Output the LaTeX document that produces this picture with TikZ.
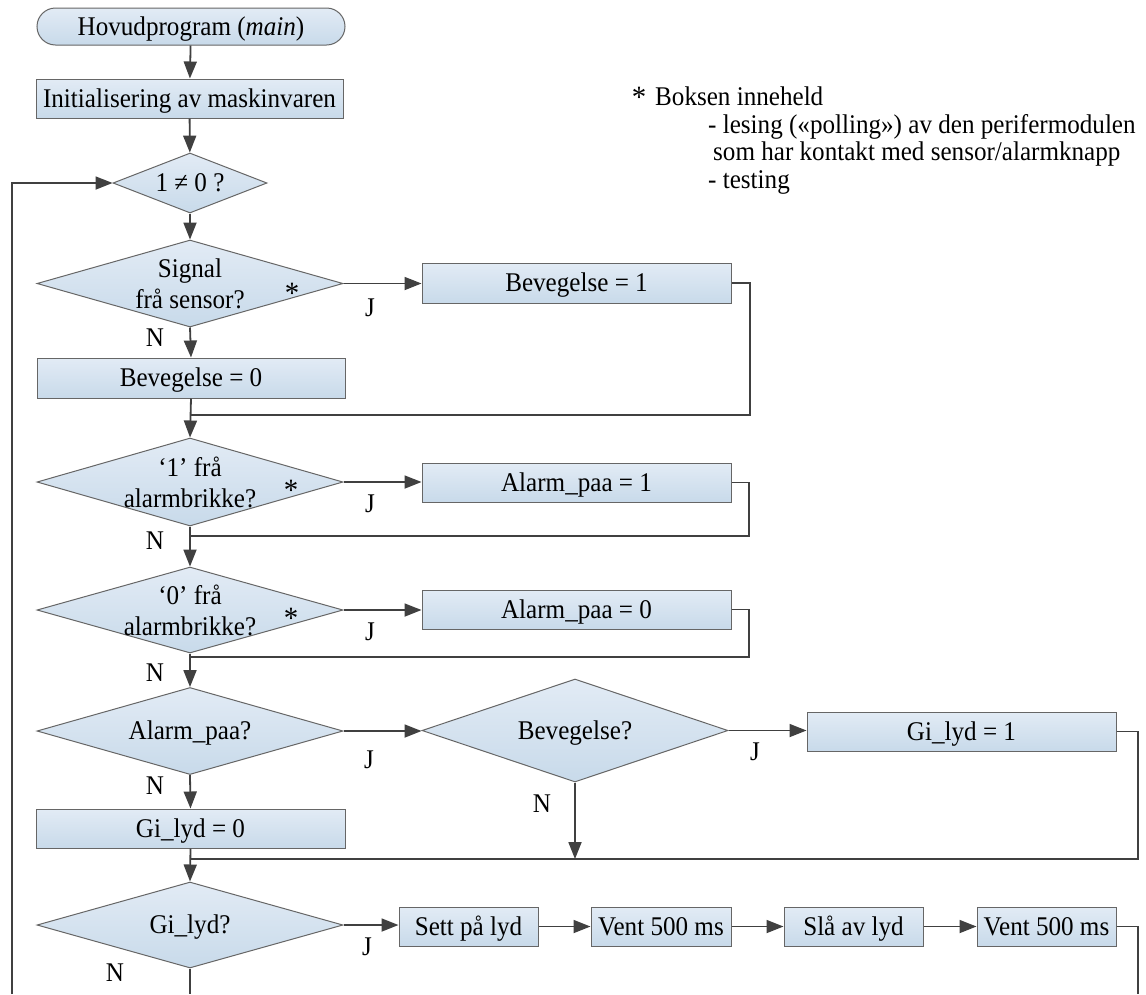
\documentclass[tikz,border=0pt]{standalone}
\usepackage{fontspec}
\setmainfont{Liberation Serif}[FakeStretch=0.93]
\usetikzlibrary{shapes.geometric,arrows.meta}

\definecolor{fillTop}{HTML}{E2EBF5}
\definecolor{fillBot}{HTML}{C8DAEA}
\definecolor{edgecol}{HTML}{666666}
\definecolor{linecol}{HTML}{404040}

\tikzset{
  txt/.style={font=\fontsize{27}{31}\selectfont, inner sep=0pt, text=black},
  capmid/.style={text height=17.9pt, text depth=0pt},
  shaded/.style={draw=edgecol, line width=1pt, top color=fillTop, bottom color=fillBot},
  proc/.style={shaded, rectangle, inner sep=0pt, txt, capmid},
  term/.style={proc, rounded corners=18.5pt},
  dec/.style={shaded, diamond, inner sep=0pt},
  dectext/.style={txt, align=center},
  conn/.style={draw=linecol, line width=1.8pt},
  arr/.style={conn, -{Triangle[length=17pt,width=13pt]}},
  lbl/.style={txt, capmid},
  star/.style={font=\fontsize{31}{31}\selectfont, inner sep=0pt, anchor=base},
}

\begin{document}
\begin{tikzpicture}[x=1pt, y=-1pt]
  \fill[white] (0,0) rectangle (1146,994);
  \useasboundingbox (0,0) rectangle (1146,994);

  % main column
  \node[term, minimum width=308pt, minimum height=37pt] (start) at (191,26.5) {Hovudprogram (\textit{main})};
  \node[proc, minimum width=307pt, minimum height=39pt] (init) at (189.5,98.5) {Initialisering av maskinvaren};

  \node[dec, minimum width=154pt, minimum height=60pt] (loop) at (190,183) {};
  \node[lbl] (loop-t) at (loop) {1 ≠ 0 ?};

  \node[dec, minimum width=306pt, minimum height=87pt] (sig) at (190,283.5) {};
  \node[dectext] (sig-t) at (sig) {Signal\\frå sensor?};

  \node[proc, minimum width=309pt, minimum height=40pt] (b1) at (576.5,283) {Bevegelse = 1};
  \node[proc, minimum width=308pt, minimum height=40pt] (b0) at (191,378) {Bevegelse = 0};

  \node[dec, minimum width=306pt, minimum height=88pt] (a1q) at (190,482) {};
  \node[dectext] (a1q-t) at (a1q) {‘1’ frå\\alarmbrikke?};
  \node[proc, minimum width=309pt, minimum height=39pt] (ap1) at (576.5,482.5) {Alarm\_paa = 1};

  \node[dec, minimum width=306pt, minimum height=86pt] (a0q) at (190,610) {};
  \node[dectext] (a0q-t) at (a0q) {‘0’ frå\\alarmbrikke?};
  \node[proc, minimum width=309pt, minimum height=39pt] (ap0) at (576.5,609.5) {Alarm\_paa = 0};

  \node[dec, minimum width=306pt, minimum height=87pt] (apq) at (190,731) {};
  \node[lbl] (apq-t) at (apq) {Alarm\_paa?};

  \node[dec, minimum width=306pt, minimum height=103pt] (bq) at (575,730.5) {};
  \node[lbl] (bq-t) at (bq) {Bevegelse?};

  \node[proc, minimum width=309pt, minimum height=39pt] (g1) at (961.5,731.5) {Gi\_lyd = 1};
  \node[proc, minimum width=309pt, minimum height=39pt] (g0) at (190.5,828.5) {Gi\_lyd = 0};

  \node[dec, minimum width=306pt, minimum height=86pt] (gq) at (190,925) {};
  \node[lbl] (gq-t) at (gq) {Gi\_lyd?};

  \node[proc, minimum width=139pt, minimum height=39pt] (s1) at (468.5,926.5) {Sett på lyd};
  \node[proc, minimum width=140pt, minimum height=39pt] (v1) at (661,926.5) {Vent 500 ms};
  \node[proc, minimum width=139pt, minimum height=39pt] (s2) at (853.5,926.5) {Slå av lyd};
  \node[proc, minimum width=139pt, minimum height=39pt] (v2) at (1046.5,926.5) {Vent 500 ms};

  % junction and turning points
  \coordinate (m1) at (191,415);
  \coordinate (r1) at (750,415);
  \coordinate (m2) at (190,536);
  \coordinate (r2) at (749,536);
  \coordinate (m3) at (190,657);
  \coordinate (r3) at (749,657);
  \coordinate (m4) at (190,859);
  \coordinate (r4) at (1138,859);
  \coordinate (r5) at (1138,926.5);
  \coordinate (e1) at (1138,994);
  \coordinate (e2) at (190,994);
  \coordinate (lb) at (12,994);
  \coordinate (lt) at (12,183);

  % connectors
  \draw[arr] (start) -- (init);
  \draw[arr] (init) -- (loop);
  \draw[arr] (loop) -- (sig);
  \draw[arr] (sig.south) -- (b0.north);
  \draw[arr] (sig.east) -- (b1.west |- sig.east);
  \draw[conn] (b1.east) -| (r1) -- (m1);
  \draw[arr] (b0.south) -- (a1q.north);

  \draw[arr] (a1q.east) -- (ap1.west |- a1q.east);
  \draw[conn] (ap1.east) -| (r2) -- (m2);
  \draw[arr] (a1q.south) -- (a0q.north);

  \draw[arr] (a0q.east) -- (ap0.west |- a0q.east);
  \draw[conn] (ap0.east) -| (r3) -- (m3);
  \draw[arr] (a0q.south) -- (apq.north);

  \draw[arr] (apq.east) -- (bq.west |- apq.east);
  \draw[arr] (bq.east) -- (g1.west |- bq.east);
  \draw[arr] (apq.south) -- (g0.north);
  \draw[arr] (bq.south) -- (bq.south |- m4);
  \draw[conn] (g1.east) -| (r4) -- (m4);
  \draw[arr] (g0.south) -- (gq.north);

  \draw[arr] (gq.east) -- (s1.west |- gq.east);
  \draw[arr] (s1) -- (v1);
  \draw[arr] (v1) -- (s2);
  \draw[arr] (s2) -- (v2);
  \draw[conn] (v2.east) -- (r5) -- (e1);
  \draw[conn] (gq.south) -- (e2);
  \draw[arr] (lb) -- (lt) -- (loop.west);

  % branch labels
  \node[lbl] (j1) at (370,308) {J};
  \node[lbl] (n1) at (155,338) {N};
  \node[lbl] (j2) at (370,504) {J};
  \node[lbl] (n2) at (155,541) {N};
  \node[lbl] (j3) at (370,632) {J};
  \node[lbl] (n3) at (155,673) {N};
  \node[lbl] (j4) at (369,760) {J};
  \node[lbl] (n4) at (155,786) {N};
  \node[lbl] (n5) at (542,804) {N};
  \node[lbl] (j5) at (755,752) {J};
  \node[lbl] (j6) at (367,947) {J};
  \node[lbl] (n6) at (115,973) {N};

  % markers for boxes that include polling
  \node[star] (st1) at (292,303) {*};
  \node[star] (st2) at (291,500.5) {*};
  \node[star] (st3) at (291,628) {*};

  % note
  \node[star] (nst) at (639,107.5) {*};
  \node[txt, anchor=base west] (n-l1) at (655,105) {Boksen inneheld};
  \node[txt, anchor=base west] (n-l2) at (708,133) {- lesing («polling») av den perifermodulen};
  \node[txt, anchor=base west] (n-l3) at (713,160) {som har kontakt med sensor/alarmknapp};
  \node[txt, anchor=base west] (n-l4) at (708,188) {- testing};
\end{tikzpicture}
\end{document}
